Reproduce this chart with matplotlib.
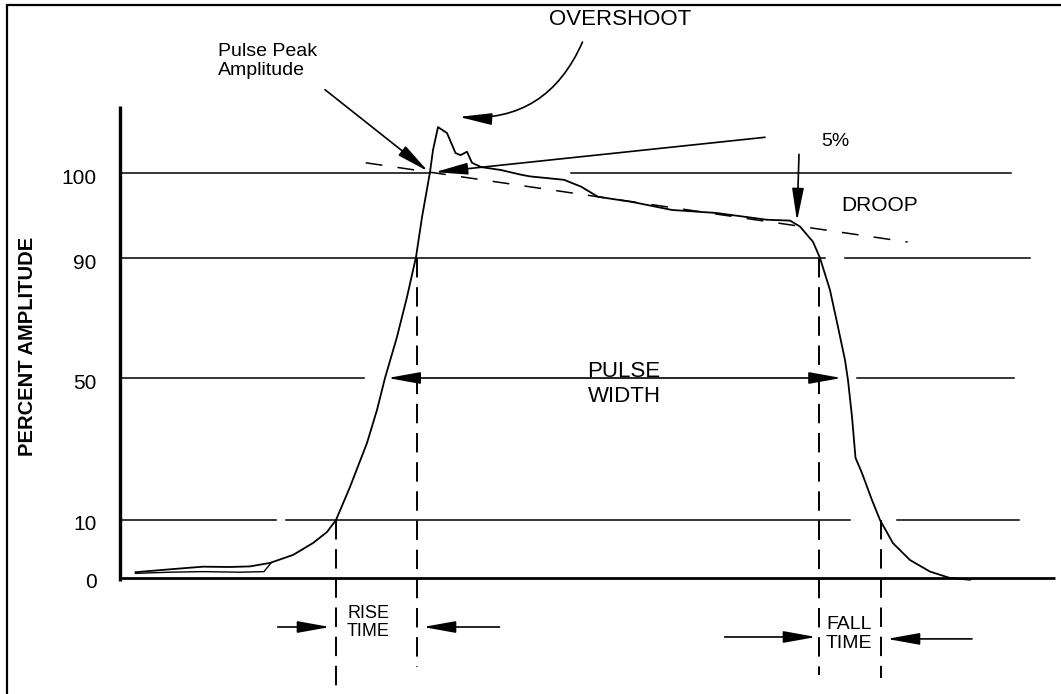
import matplotlib
matplotlib.use("Agg")
import matplotlib.pyplot as plt
import matplotlib.transforms as mtransforms
from matplotlib import font_manager
from matplotlib.patches import Rectangle
import numpy as np

# pulse trace: time (arbitrary units) vs percent amplitude
pulse_t = [0.155, 0.50, 0.83, 1.10, 1.30, 1.50, 1.73, 1.93, 2.07, 2.16,
           2.30, 2.47, 2.57, 2.65, 2.77, 2.87, 2.96, 3.02, 3.10, 3.13,
           3.18, 3.27, 3.355, 3.405, 3.47, 3.52, 3.61, 3.81, 4.01, 4.10,
           4.44, 4.61, 4.78, 5.12, 5.52, 5.96, 6.47, 6.70, 6.80, 6.93,
           7.00, 7.10, 7.18, 7.25, 7.28, 7.32, 7.355, 7.42, 7.52, 7.60,
           7.73, 7.90, 8.10, 8.30, 8.50]
pulse_y = [1.0, 1.5, 1.95, 1.9, 2.0, 2.6, 3.97, 6.03, 7.93, 10.0,
           19.3, 31.7, 41.0, 50.0, 63.7, 77.0, 90.1, 94.8, 100.1, 102.7,
           105.4, 104.7, 102.35, 102.1, 102.5, 101.2, 100.7, 100.35, 99.8, 99.6,
           99.2, 98.4, 97.2, 96.6, 95.65, 95.3, 94.5, 94.4, 93.7, 91.9,
           90.0, 79.3, 67.0, 56.0, 49.4, 39.1, 27.5, 23.2, 15.6, 10.0,
           6.0, 3.1, 1.1, 0.0, -0.3]
# second sweep of the noisy baseline
base_t = [0.155, 0.50, 0.83, 1.20, 1.44, 1.51]
base_y = [0.8, 1.0, 1.1, 1.0, 1.1, 2.6]

levels = [0, 10, 50, 90, 100]
level_labels = ["0", "10", "50", "90", "100"]
level_pieces = {
    100: [(0, 3.10), (4.51, 8.91)],
    90: [(0, 7.046), (7.25, 9.095)],
    50: [(0, 2.44), (7.37, 8.94)],
    10: [(0, 1.56), (1.66, 7.30), (7.774, 8.99)],
}
rise_10, rise_90 = 2.16, 2.965
fall_90, fall_10 = 6.99, 7.605
width_start, width_end = 2.677, 7.215
droop_t = [2.457, 7.876]
droop_y = [101.2, 91.88]

# schematic (non-linear) amplitude axis
scale_pct = [-20, 0, 10, 50, 90, 100, 120.35]
scale_pos = [0, 116, 174, 316, 436, 521, 694]


def fwd(v):
    return np.interp(v, scale_pct, scale_pos)


def inv(v):
    return np.interp(v, scale_pos, scale_pct)


names = {f.name for f in font_manager.fontManager.ttflist}
SANS = 'Liberation Sans' if 'Liberation Sans' in names else 'DejaVu Sans'
plt.rcParams['font.family'] = [SANS, 'DejaVu Sans']

fig = plt.figure(figsize=(10.61, 6.94), dpi=100)
ax = fig.add_axes([0, 0, 1, 1])
ax.set_yscale('function', functions=(fwd, inv))
ax.set_xlim(-1.2, 9.41)
ax.set_ylim(-20, 120.35)
ax.axis('off')

# frame
fig.add_artist(Rectangle((0.0066, -0.05), 1.1, 1.0428, transform=fig.transFigure,
                         fill=False, lw=1.6, ec='k'))

# axes
ax.plot([0, 0], [-0.6, 107.9], color='k', lw=2.4, solid_capstyle='butt')
ax.plot([0, 9.35], [0, 0], color='k', lw=2.0, solid_capstyle='butt')

# reference levels
for lvl, pieces in level_pieces.items():
    for a, b in pieces:
        ax.plot([a, b], [lvl, lvl], color='k', lw=1.1)

lab_tr = mtransforms.offset_copy(ax.transData, fig=fig, x=0, y=-5, units='dots')
for lvl, lab in zip(levels, level_labels):
    ax.text(-0.235, lvl, lab, transform=lab_tr, ha='right', va='center', fontsize=15)

ax.text(-0.92, 60.7, 'PERCENT AMPLITUDE', rotation=90, ha='center', va='center',
        fontsize=14.5, fontweight='bold')

# pulse
ax.plot(pulse_t, pulse_y, color='k', lw=1.3, solid_joinstyle='round')
ax.plot(base_t, base_y, color='k', lw=1.0)

# droop line
ax.plot(droop_t, droop_y, color='k', lw=1.1, ls=(0, (11, 10)))

# measurement verticals
dash = (0, (10, 5))
ax.plot([rise_10, rise_10], [10, -18.7], color='k', lw=1.4, ls=dash)
ax.plot([rise_90, rise_90], [90, -15.3], color='k', lw=1.4, ls=dash)
ax.plot([fall_90, fall_90], [90, -16.7], color='k', lw=1.4, ls=dash)
ax.plot([fall_10, fall_10], [10, -17.2], color='k', lw=1.4, ls=dash)


def arrow(x0, y0, x1, y1, rad=0.0, style='-|>'):
    ax.annotate('', xy=(x1, y1), xytext=(x0, y0),
                arrowprops=dict(arrowstyle=style + ',head_length=1.0,head_width=0.18',
                                color='k', lw=1.2, shrinkA=0, shrinkB=0,
                                mutation_scale=20,
                                connectionstyle='arc3,rad=%s' % rad))


arrow(width_start, 50, width_end, 50, style='<|-|>')
arrow(4.625, 115.4, 3.39, 106.6, rad=-0.35)
arrow(2.05, 109.8, 3.08, 100.2)
arrow(6.45, 104.2, 3.15, 100.1)
arrow(6.79, 102.2, 6.77, 94.35)
arrow(1.577, -8.45, 2.10, -8.45)
arrow(3.795, -8.45, 3.03, -8.45)
arrow(6.047, -10.17, 6.96, -10.17)
arrow(8.52, -10.5, 7.67, -10.5)

# labels
ax.text(5.0, 118.06, 'OVERSHOOT', ha='center', va='center', fontsize=16)
ax.text(0.98, 115.3, 'Pulse Peak\nAmplitude', ha='left', va='top', fontsize=14,
        linespacing=1.15)
ax.text(7.155, 103.7, '5%', ha='center', va='center', fontsize=14)
ax.text(7.6, 96.2, 'DROOP', ha='center', va='center', fontsize=15)
ax.text(4.676, 48.3, 'PULSE\nWIDTH', ha='left', va='center', fontsize=16, linespacing=1.2)
ax.text(2.27, -7.67, 'RISE\nTIME', ha='left', va='center', fontsize=13, linespacing=1.15)
ax.text(7.06, -9.7, 'FALL\nTIME', ha='left', va='center', fontsize=14, linespacing=1.15)

fig.savefig('out.png', dpi=100)
